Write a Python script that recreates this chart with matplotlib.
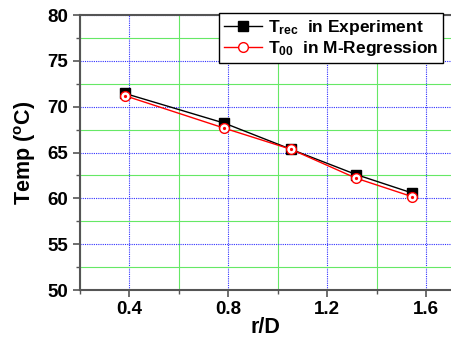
import matplotlib
matplotlib.use('Agg')
import matplotlib.pyplot as plt
from matplotlib.ticker import MultipleLocator

plt.rcParams['font.family'] = ['Liberation Sans', 'DejaVu Sans']
plt.rcParams['font.weight'] = 'bold'
plt.rcParams['mathtext.fontset'] = 'custom'
plt.rcParams['mathtext.rm'] = 'Liberation Sans:bold'
plt.rcParams['mathtext.it'] = 'Liberation Sans:bold'
plt.rcParams['mathtext.bf'] = 'Liberation Sans:bold'

# radial position and temperatures
r_over_d = [0.381, 0.784, 1.053, 1.316, 1.541]
t_rec = [71.45, 68.2, 65.35, 62.6, 60.6]
t_00 = [71.2, 67.65, 65.35, 62.2, 60.2]

fig = plt.figure(figsize=(4.51, 3.39), dpi=100)
ax = fig.add_axes([80 / 451, 49 / 339, 1 - 80 / 451, 275 / 339])

ax.set_xlim(0.2, 1.7)
ax.set_ylim(50, 80)
ax.xaxis.set_major_locator(MultipleLocator(0.4))
ax.xaxis.set_minor_locator(MultipleLocator(0.2))
ax.yaxis.set_major_locator(MultipleLocator(5))
ax.yaxis.set_minor_locator(MultipleLocator(2.5))

# green solid minor grid, blue dotted major grid
ax.grid(which='minor', color='#66e866', linestyle='-', linewidth=0.8)
ax.grid(which='major', color='#3030ff', linestyle=(0, (1, 1)), linewidth=0.8)
ax.set_axisbelow(True)

ax.plot(r_over_d, t_rec, color='black', linewidth=1.0, marker='s',
        markersize=6.5, markerfacecolor='black',
        label=r'T$_{\rm rec}$  in Experiment')
ax.plot(r_over_d, t_00, color='red', linewidth=1.0, marker='o',
        markersize=7, markerfacecolor='white', markeredgewidth=1.0,
        label=r'T$_{\rm 00}$  in M-Regression')
ax.plot(r_over_d, t_00, linestyle='none', marker='o', markersize=1.3,
        color='red')

for side in ('left', 'bottom', 'top'):
    ax.spines[side].set_color('#555555')
    ax.spines[side].set_linewidth(1.5)
ax.spines['right'].set_visible(False)

ax.tick_params(which='major', direction='out', length=5, width=1.2,
               color='#555555', labelsize=13.5)
ax.tick_params(which='minor', direction='out', length=3, width=1.0,
               color='#555555')
ax.tick_params(axis='x', pad=3)
ax.set_xticks([0.4, 0.8, 1.2, 1.6])
ax.set_xticklabels(['0.4', '0.8', '1.2', '1.6'])

ax.set_xlabel('r/D', fontsize=15.5, fontweight='bold', labelpad=-1)
ax.set_ylabel(r'Temp ($^{\rm o}$C)', fontsize=15.5, fontweight='bold', labelpad=7)

leg = ax.legend(loc='upper left', bbox_to_anchor=(219 / 451, 1 - 13 / 339),
                bbox_transform=fig.transFigure, fontsize=12.5, frameon=True,
                fancybox=False, framealpha=1, edgecolor='black',
                borderpad=0.3, handlelength=2.2, handletextpad=0.3,
                labelspacing=0.1, borderaxespad=0)
leg.get_frame().set_linewidth(1.0)

fig.savefig('out.png', dpi=100)
